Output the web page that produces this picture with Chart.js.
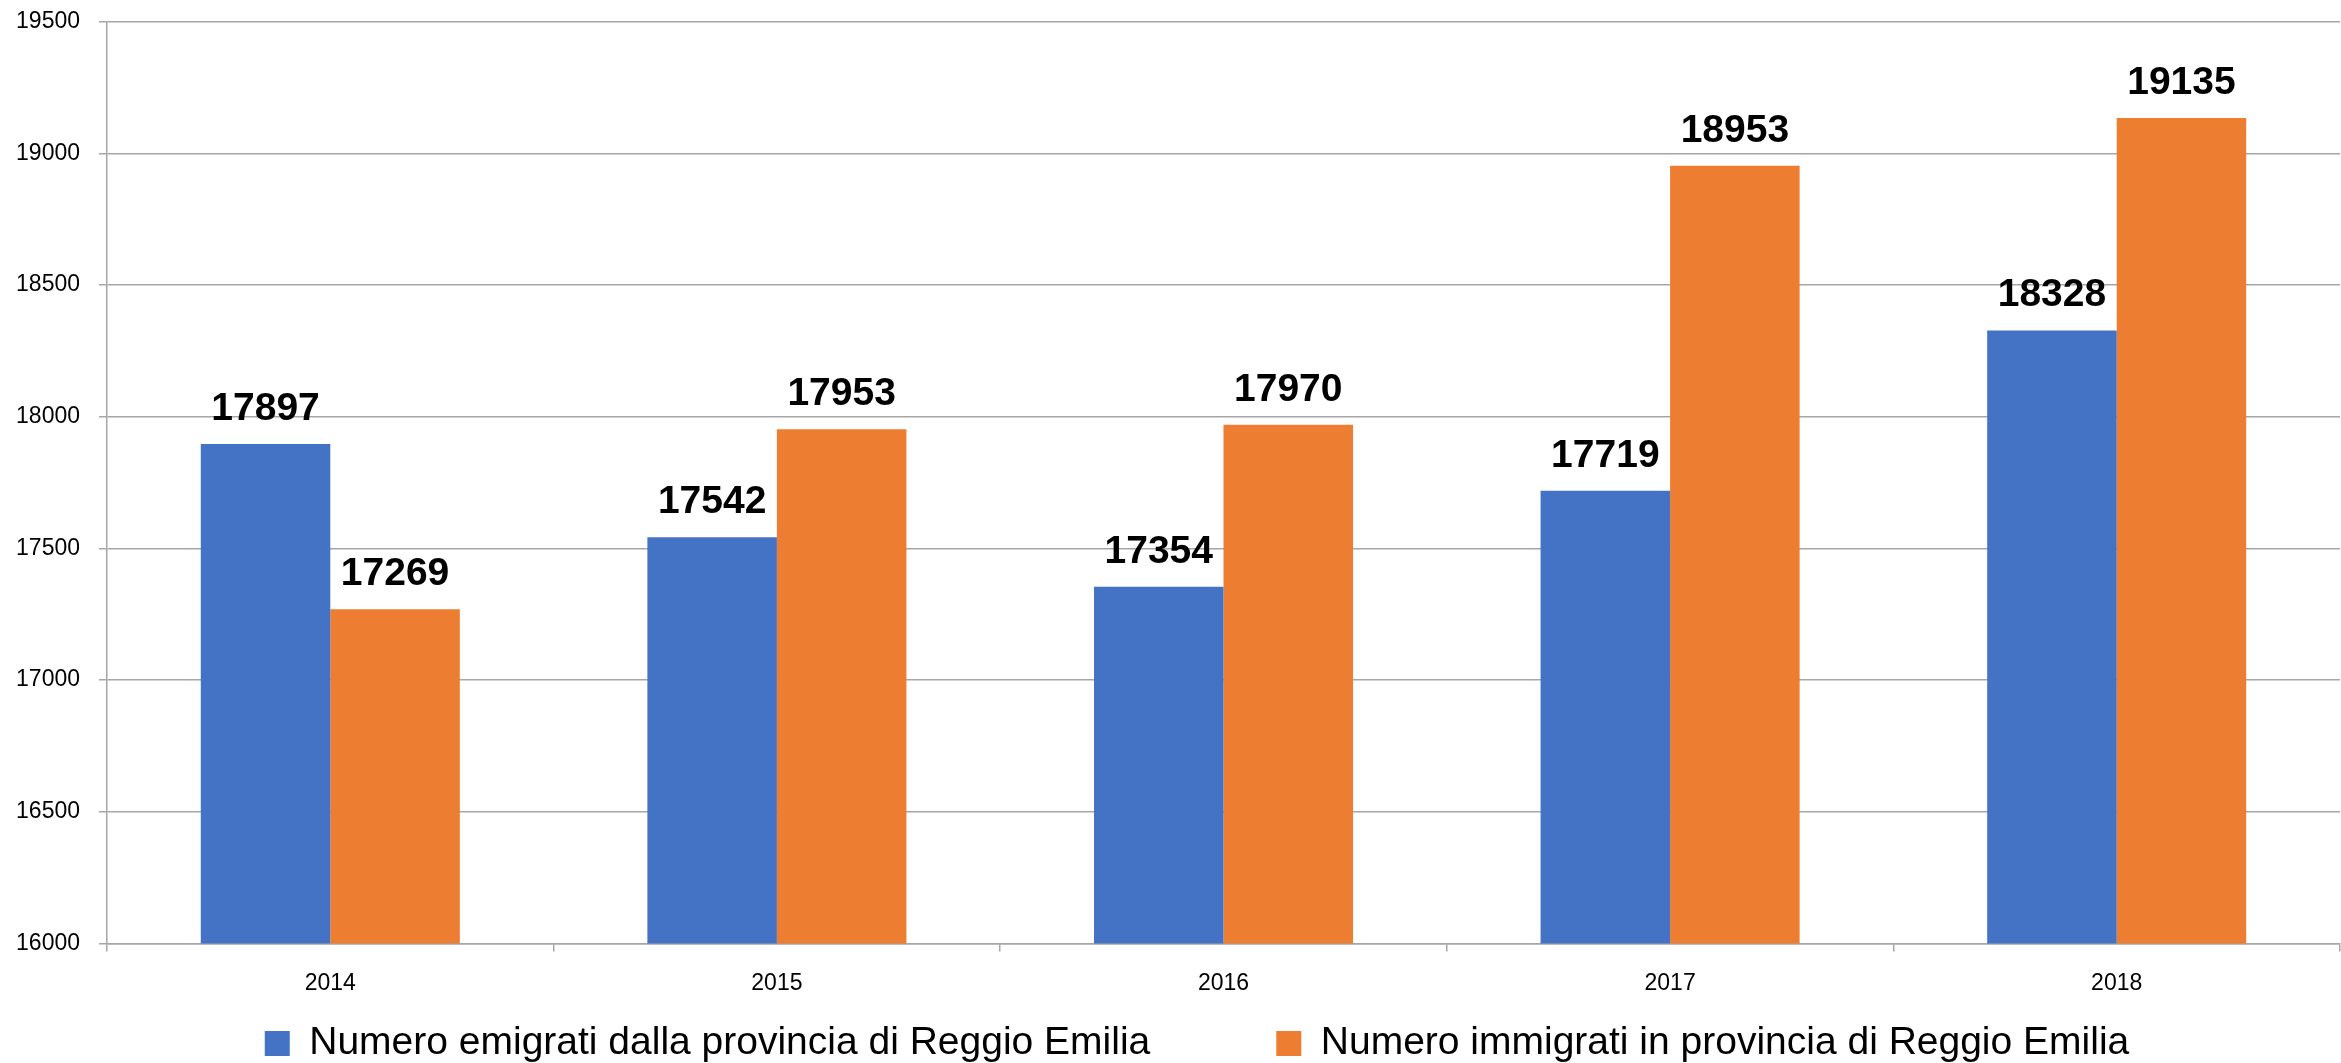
<!DOCTYPE html>
<html><head><meta charset="utf-8">
<script src="https://cdn.jsdelivr.net/npm/chart.js@4.4.0/dist/chart.umd.min.js"></script>
<style>html,body{margin:0;padding:0;background:#fff;overflow:hidden;}</style>
</head><body>
<canvas id="c" width="2341" height="1063" style="display:block;width:2341px;height:1063px"></canvas>
<script>
const categories = ['2014', '2015', '2016', '2017', '2018'];
const emigrati = [17897, 17542, 17354, 17719, 18328];
const immigrati = [17269, 17953, 17970, 18953, 19135];
const seriesNames = ['Numero emigrati dalla provincia di Reggio Emilia', 'Numero immigrati in provincia di Reggio Emilia'];
const seriesColors = ['#4472C4', '#ED7D31'];
const yMin = 16000, yMax = 19500, yStep = 500;

const FONT = '"Liberation Sans", Arial, sans-serif';
const GRID = '#a6a6a6';

const valueLabels = {
  id: 'valueLabels',
  afterDatasetsDraw(chart) {
    const ctx = chart.ctx;
    ctx.save();
    ctx.font = 'bold 39px ' + FONT;
    ctx.fillStyle = '#000';
    ctx.textAlign = 'center';
    ctx.textBaseline = 'alphabetic';
    chart.data.datasets.forEach((ds, i) => {
      chart.getDatasetMeta(i).data.forEach((bar, j) => {
        ctx.fillText(String(ds.data[j]), bar.x, bar.y - 24);
      });
    });
    ctx.restore();
  }
};

new Chart(document.getElementById('c'), {
  type: 'bar',
  data: {
    labels: categories,
    datasets: [
      { label: seriesNames[0], data: emigrati, backgroundColor: seriesColors[0], borderWidth: 0 },
      { label: seriesNames[1], data: immigrati, backgroundColor: seriesColors[1], borderWidth: 0 }
    ]
  },
  options: {
    responsive: false,
    animation: false,
    devicePixelRatio: 1,
    layout: { padding: { left: 13, top: 0, right: -40, bottom: -10 } },
    datasets: { bar: { categoryPercentage: 0.58, barPercentage: 1.0 } },
    scales: {
      x: {
        grid: { drawOnChartArea: false, drawTicks: true, tickLength: 8, color: GRID, lineWidth: 1.5, offset: true },
        border: { display: true, color: GRID, width: 1.5 },
        ticks: { font: { family: FONT, size: 23 }, color: '#000', padding: 18 }
      },
      y: {
        min: yMin, max: yMax,
        afterFit(scale) { scale.width = 94; },
        grid: { color: GRID, lineWidth: 1.5, tickLength: 19, drawTicks: true,
                tickBorderDash: [8, 11], tickBorderDashOffset: 8 },
        border: { display: true, color: GRID, width: 1.5 },
        ticks: { stepSize: yStep, font: { family: FONT, size: 23 }, color: '#000', padding: 8,
                 callback: (v) => String(v) }
      },
      spacer: {
        type: 'linear',
        position: 'right',
        display: true,
        afterFit(scale) { scale.width = 41; },
        grid: { display: false, drawTicks: false },
        border: { display: false },
        ticks: { display: false }
      }
    },
    plugins: {
      tooltip: { enabled: false },
      legend: {
        position: 'bottom',
        labels: {
          font: { family: FONT, size: 39 },
          color: '#000',
          boxWidth: 25,
          boxHeight: 25,
          padding: 9,
          generateLabels(chart) {
            return chart.data.datasets.map((ds, i) => ({
              text: i === 0 ? ds.label + '\u2003\u2003\u2003' : ds.label,
              fillStyle: ds.backgroundColor,
              strokeStyle: ds.backgroundColor,
              lineWidth: 0,
              hidden: false,
              datasetIndex: i
            }));
          }
        }
      }
    }
  },
  plugins: [valueLabels]
});
</script>
</body></html>
